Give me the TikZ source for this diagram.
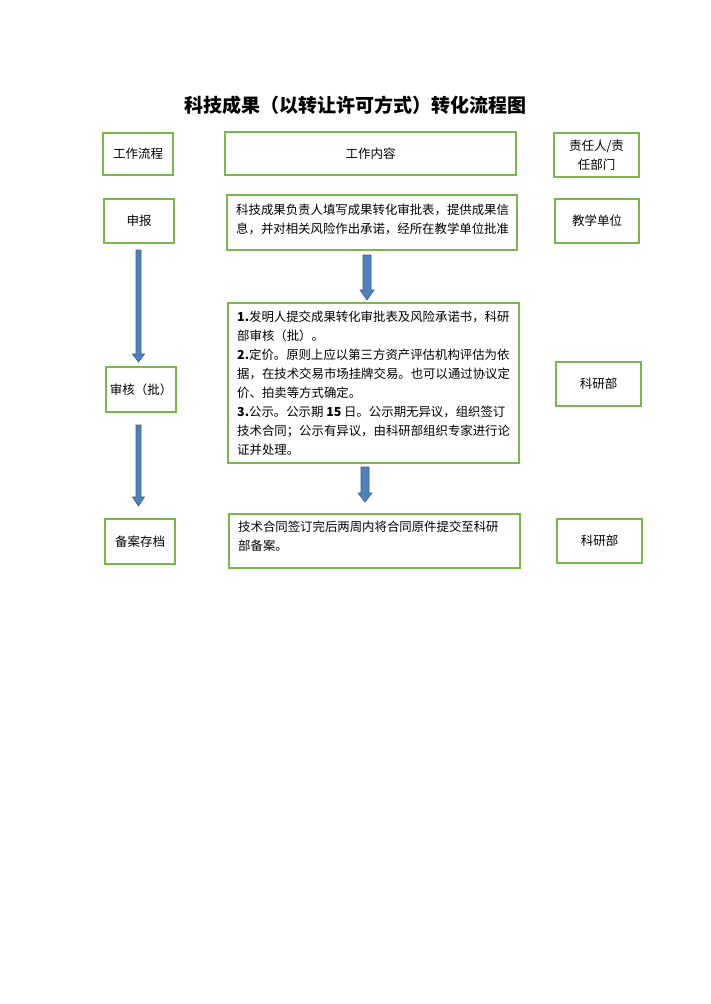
\documentclass[tikz,border=0pt]{standalone}
\usepackage{fontspec}
\setmainfont{Noto Sans CJK SC}
\begin{document}
\begin{tikzpicture}[x=1pt,y=-1pt,
 bx/.style={draw={rgb,255:red,122;green,182;blue,72}, line width=1.1pt},
 tx/.style={font=\fontsize{12.4}{19}\selectfont, align=left, inner sep=0},
 ct/.style={font=\fontsize{12.5}{19}\selectfont, align=center, inner sep=0},
 barrow/.style={fill={rgb,255:red,79;green,129;blue,189}, draw={rgb,255:red,56;green,93;blue,138}, line width=0.6pt}]
\useasboundingbox (0,0) rectangle (710,1004);
\node[font=\bfseries\fontsize{19}{22}\selectfont] (title) at (355,105) {科技成果（以转让许可方式）转化流程图};
% left column
\draw[bx] (103,133) rectangle (173,175) node[midway,ct] (l1) {工作流程};
\draw[bx] (104,199) rectangle (174,243) node[midway,ct] (l2) {申报};
\draw[bx] (106,367) rectangle (176,412) node[midway,ct] (l3) {审核（批）};
\draw[bx] (105,519) rectangle (175,564) node[midway,ct] (l4) {备案存档};
% middle
\draw[bx] (225,132) rectangle (516,175) node[midway,ct] (m1) {工作内容};
\draw[bx] (227,195) rectangle (517,250);
\node[tx,anchor=north west] (m2) at (236,204) {科技成果负责人填写成果转化审批表，提供成果信\\息，并对相关风险作出承诺，经所在教学单位批准};
\draw[bx] (228,303) rectangle (519,463);
\node[tx,anchor=north west] (m3) at (237,311) {\textbf{1.}发明人提交成果转化审批表及风险承诺书，科研\\部审核（批）。\\\textbf{2.}定价。原则上应以第三方资产评估机构评估为依\\据，在技术交易市场挂牌交易。也可以通过协议定\\价、拍卖等方式确定。\\\textbf{3.}公示。公示期 \textbf{15} 日。公示期无异议，组织签订\\技术合同；公示有异议，由科研部组织专家进行论\\证并处理。};
\draw[bx] (229,514) rectangle (520,568);
\node[tx,anchor=north west] (m4) at (238,521) {技术合同签订完后两周内将合同原件提交至科研\\部备案。};
% right
\draw[bx] (554,133) rectangle (639,177) node[midway,ct] (r1) {责任人/责\\任部门};
\draw[bx] (555,199) rectangle (639,243) node[midway,ct] (r2) {教学单位};
\draw[bx] (556,362) rectangle (641,406) node[midway,ct] (r3) {科研部};
\draw[bx] (557,519) rectangle (642,563) node[midway,ct] (r4) {科研部};
% arrows
\draw[barrow] (136,250) -- (141,250) -- (141,354) -- (144.5,354) -- (138.5,362) -- (132.5,354) -- (136,354) -- cycle;
\draw[barrow] (136,425) -- (141,425) -- (141,497) -- (144.5,497) -- (138.5,506) -- (132.5,497) -- (136,497) -- cycle;
\draw[barrow] (363,255) -- (371,255) -- (371,290) -- (374,290) -- (367,300) -- (360,290) -- (363,290) -- cycle;
\draw[barrow] (361,467) -- (369,467) -- (369,493) -- (372,493) -- (365,502) -- (358,493) -- (361,493) -- cycle;
\end{tikzpicture}
\end{document}
